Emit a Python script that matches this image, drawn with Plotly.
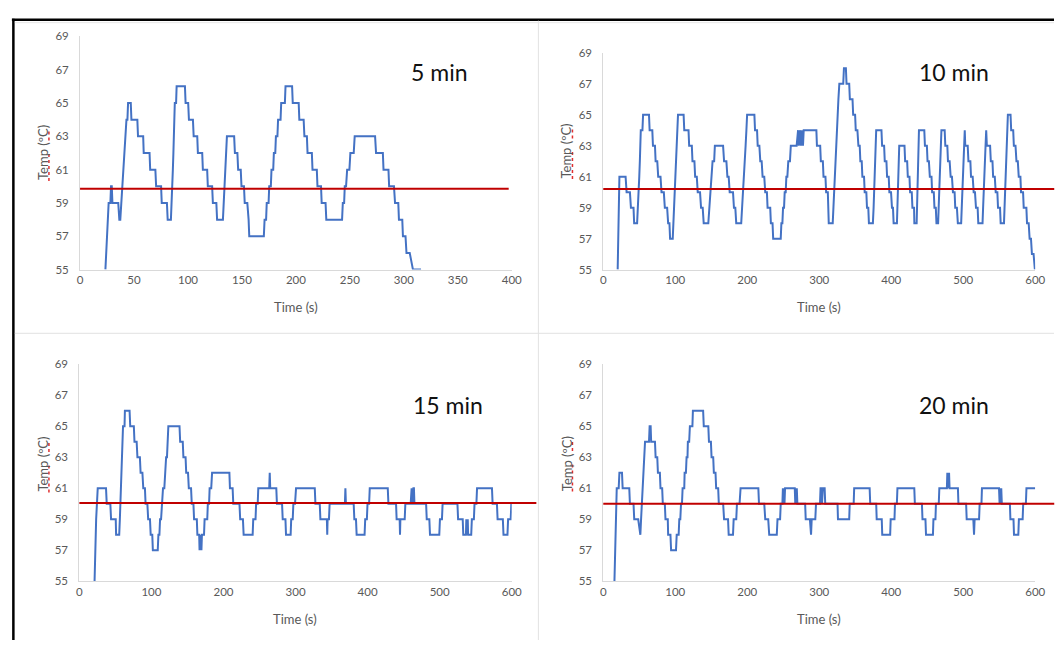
import plotly.graph_objects as go

# ---------------- data ----------------
# (time s, temperature degC) points of each run
temp_5min = [
    (23.5, 55), (26.5, 59), (28.1, 59), (28.7, 60), (29.4, 60), (30.0, 59), (35.4, 59), (36.4, 58),
    (37.3, 58), (38.2, 59), (39.2, 60), (40.2, 61), (41.1, 62), (42.0, 63), (43.0, 64), (43.9, 64),
    (44.5, 65), (47.0, 65), (47.6, 64), (53.1, 64), (53.7, 63), (58.5, 63), (59.0, 62), (64.4, 62),
    (65.0, 61), (69.8, 61), (70.5, 60), (75.1, 60), (75.7, 59), (80.5, 59), (81.2, 58), (84.2, 58),
    (85.0, 59), (85.5, 60), (86.0, 61), (86.5, 62), (87.0, 63), (87.4, 64), (87.8, 65), (89.0, 65),
    (89.5, 66), (97.2, 66), (97.8, 65), (100.2, 65), (100.9, 64), (104.6, 64), (105.3, 63), (108.6, 63),
    (109.2, 62), (113.2, 62), (113.8, 61), (117.8, 61), (118.4, 60), (122.4, 60), (123.1, 59), (126.3, 59),
    (127.0, 58), (132.4, 58), (133.2, 59), (133.9, 60), (134.6, 61), (135.3, 62), (136.1, 63), (142.8, 63),
    (143.5, 62), (145.8, 62), (146.5, 61), (148.9, 61), (149.6, 60), (151.9, 60), (152.6, 59), (155.0, 59),
    (155.5, 58), (156.2, 58), (156.8, 57), (170.3, 57), (171.0, 58), (172.4, 58), (173.0, 59), (174.7, 59),
    (175.3, 60), (176.8, 60), (177.4, 61), (179.0, 61), (179.6, 62), (180.9, 62), (181.5, 63), (182.9, 63),
    (183.5, 64), (185.8, 64), (186.4, 65), (189.8, 65), (190.4, 66), (196.5, 66), (197.1, 65), (202.6, 65),
    (203.2, 64), (207.2, 64), (207.9, 63), (210.2, 63), (210.8, 62), (214.8, 62), (215.4, 61), (219.4, 61),
    (220.0, 60), (223.3, 60), (223.9, 59), (227.5, 59), (228.2, 58), (242.8, 58), (243.5, 59), (244.7, 59),
    (245.3, 60), (246.5, 60), (247.5, 61), (249.6, 61), (250.5, 62), (253.6, 62), (254.5, 63), (273.4, 63),
    (274.3, 62), (280.6, 62), (281.2, 61), (285.8, 61), (286.4, 60), (290.9, 60), (291.9, 59), (294.9, 59),
    (295.5, 58), (298.6, 58), (299.2, 57), (301.6, 57), (302.5, 56), (305.5, 56), (308.5, 55), (316.0, 55),
]

temp_10min = [
    (20.0, 55), (22.4, 61), (31.0, 61), (32.4, 60), (37.0, 60), (38.4, 59), (42.0, 59), (42.9, 58), (47.0, 58),
    (48.3, 59), (49.2, 60), (50.0, 61), (50.8, 62), (51.5, 63), (52.1, 64), (54.4, 64), (55.3, 65), (63.5, 65),
    (64.4, 64), (68.1, 64), (69.0, 63), (71.8, 63), (72.7, 62), (75.0, 62), (76.3, 61), (79.5, 61), (80.9, 60),
    (84.1, 60), (85.5, 59), (88.7, 59), (90.1, 58), (91.9, 58), (92.8, 57), (96.5, 57),
    (97.5, 58), (98.5, 59), (99.5, 60), (100.4, 61), (101.3, 62), (102.2, 63), (103.0, 64), (103.8, 65), (111.6, 65),
    (112.5, 64), (118.4, 64), (119.3, 63), (123.0, 63), (123.9, 62), (126.6, 62), (127.6, 61), (129.9, 61),
    (131.2, 60), (134.4, 60), (135.8, 59), (138.1, 59), (139.5, 58), (145.9, 58),
    (147.3, 59), (148.5, 60), (150.6, 61), (151.8, 62), (154.0, 62), (155.0, 63), (166.4, 63),
    (167.8, 62), (171.0, 62), (172.4, 61), (174.2, 61), (175.6, 60), (180.2, 60), (181.5, 59), (183.4, 59),
    (184.7, 58), (191.6, 58), (193.0, 59), (194.3, 60), (195.5, 61), (196.6, 62), (197.7, 63), (198.8, 64),
    (199.8, 65), (209.9, 65), (210.8, 64), (213.6, 64), (214.5, 63), (216.8, 63), (218.1, 62), (220.0, 62),
    (221.3, 61), (223.6, 61), (225.0, 60), (227.3, 60), (228.2, 59), (231.9, 59), (232.8, 58), (235.1, 58),
    (236.0, 57), (246.5, 57), (247.4, 58), (248.8, 58), (249.7, 59), (251.1, 59), (252.0, 60), (253.4, 60),
    (254.3, 61), (255.7, 61), (257.0, 62), (259.3, 62), (260.5, 63), (268.6, 63),
    (269.6, 64), (270.6, 64), (271.6, 63), (272.6, 64), (273.6, 64), (274.6, 63), (275.6, 64), (276.4, 64),
    (277.4, 63), (278.4, 64), (296.0, 64),
    (296.8, 63), (301.3, 63), (302.2, 62), (305.0, 62), (305.9, 61), (308.6, 61), (309.6, 60), (311.9, 60),
    (312.3, 59), (312.8, 59), (313.2, 58), (318.7, 58),
    (319.6, 59), (320.6, 60), (321.5, 61), (322.5, 62), (323.5, 63), (324.5, 64), (325.5, 65), (326.6, 66),
    (327.9, 67), (333.3, 67), (334.3, 68), (337.0, 68), (337.9, 67), (341.6, 67), (342.5, 66), (346.2, 66),
    (347.1, 65), (349.8, 65), (350.7, 64), (353.0, 64), (354.4, 63), (356.2, 63), (357.1, 62), (359.0, 62),
    (359.9, 61), (362.2, 61), (363.1, 60), (365.4, 60), (366.3, 59), (368.1, 59), (369.0, 58), (374.5, 58),
    (375.5, 59), (376.3, 60), (377.0, 61), (377.7, 62), (378.4, 63), (379.1, 64), (386.4, 64),
    (387.3, 63), (390.1, 63), (391.0, 62), (393.3, 62), (394.2, 61), (396.5, 61), (397.4, 60), (399.7, 60),
    (401.0, 59), (402.4, 59), (403.3, 58), (407.9, 58),
    (408.7, 59), (409.3, 60), (409.9, 61), (410.5, 62), (411.1, 63), (418.4, 63),
    (419.3, 62), (422.1, 62), (423.0, 61), (425.3, 61), (426.2, 60), (428.5, 60), (429.4, 59), (431.7, 59),
    (432.1, 58), (435.3, 58),
    (436.0, 59), (436.6, 60), (437.2, 61), (437.6, 62), (438.0, 63), (438.5, 64), (445.9, 64),
    (446.8, 63), (449.5, 63), (450.4, 62), (452.3, 62), (453.6, 61), (455.9, 61), (456.8, 60), (459.1, 60),
    (460.0, 59), (461.9, 59), (462.8, 58), (465.1, 58),
    (466.0, 59), (466.8, 60), (467.6, 61), (468.4, 62), (469.0, 63), (469.7, 64), (474.2, 64),
    (475.1, 63), (477.9, 63), (478.8, 62), (481.1, 62), (482.5, 61), (484.3, 61), (485.7, 60), (488.0, 60),
    (488.9, 59), (491.2, 59), (492.5, 58), (497.1, 58),
    (497.9, 59), (498.6, 60), (499.3, 61), (500.0, 62), (500.8, 63), (501.5, 63), (502.1, 64), (502.8, 63),
    (506.2, 63), (507.2, 62), (509.9, 62), (510.8, 61), (513.1, 61), (514.5, 60), (516.3, 60), (517.7, 59),
    (520.0, 59), (520.9, 58), (526.8, 58),
    (527.6, 59), (528.2, 60), (528.8, 61), (529.4, 62), (530.0, 63), (531.0, 63), (531.9, 64), (532.8, 63),
    (537.3, 63), (538.3, 62), (540.6, 62), (541.5, 61), (543.8, 61), (545.1, 60), (547.4, 60), (548.3, 59),
    (551.1, 59), (552.0, 58), (556.6, 58),
    (557.5, 59), (558.3, 60), (559.0, 61), (559.7, 62), (560.4, 63), (561.2, 64), (562.0, 65), (565.7, 65),
    (566.6, 64), (569.4, 64), (570.3, 63), (572.6, 63), (573.9, 62), (575.8, 62), (577.1, 61), (579.4, 61),
    (580.3, 60), (583.1, 60), (584.0, 59), (587.7, 59), (588.6, 58), (590.9, 58), (592.2, 57), (594.1, 57),
    (595.4, 56), (597.7, 56), (599.5, 55),
]

temp_15min = [
    (21.1, 55), (23.3, 59), (25.5, 61), (37.0, 61), (38.0, 60), (43.0, 60), (44.0, 59), (50.5, 59),
    (51.0, 58), (55.3, 58),
    (56.2, 59), (56.9, 60), (57.6, 61), (58.3, 62), (58.9, 63), (59.6, 64), (60.6, 65), (62.7, 65),
    (63.2, 66), (69.7, 66), (70.6, 65), (75.6, 65), (76.5, 64), (79.5, 64), (80.6, 63), (84.0, 63),
    (85.0, 62), (87.5, 62), (88.7, 61), (91.0, 61), (91.9, 60), (94.4, 60), (95.5, 59), (98.0, 59),
    (99.0, 58), (101.2, 58), (102.0, 57), (108.8, 57),
    (109.7, 58), (111.1, 58), (112.0, 59), (113.4, 59), (114.3, 60), (115.2, 60), (116.1, 61), (117.9, 61),
    (118.8, 62), (119.8, 62), (120.4, 63), (121.6, 63), (122.2, 64), (123.0, 64), (123.5, 65), (139.0, 65),
    (139.9, 64), (143.5, 64), (144.4, 63), (147.4, 63), (148.3, 62), (150.8, 62), (151.9, 61), (155.0, 61),
    (156.0, 60), (158.3, 60), (159.2, 59), (163.0, 59), (163.8, 58), (166.3, 58), (166.8, 57), (167.4, 58),
    (168.0, 57), (168.7, 58), (169.4, 57), (170.1, 58), (173.0, 58),
    (173.8, 59), (177.5, 59), (178.3, 60), (180.0, 60), (180.8, 61), (183.0, 61), (184.2, 62), (208.2, 62),
    (209.0, 61), (212.7, 61), (213.6, 60), (222.2, 60), (223.2, 59), (227.0, 59), (228.0, 58), (240.5, 58),
    (241.3, 59), (244.5, 59), (245.3, 60), (247.5, 60), (248.3, 61), (263.5, 61), (264.2, 62), (264.9, 61),
    (273.3, 61), (274.2, 60), (281.3, 60), (282.2, 59), (286.0, 59), (286.8, 58), (293.2, 58), (294.0, 59),
    (296.1, 59), (297.0, 60), (299.3, 60), (300.7, 61), (326.7, 61),
    (327.6, 60), (333.6, 60), (334.5, 59), (343.5, 59), (344.0, 58), (344.5, 59), (346.4, 59), (347.3, 60),
    (368.5, 60), (369.2, 61), (369.9, 60), (380.7, 60), (381.6, 59), (383.9, 59), (384.8, 58), (395.8, 58),
    (396.7, 59), (399.0, 59), (399.9, 60), (402.1, 60), (403.0, 61), (428.0, 61),
    (428.9, 60), (439.5, 60), (440.3, 59), (444.5, 59), (445.0, 58), (445.5, 59), (451.5, 59), (452.4, 60),
    (459.8, 60), (460.4, 61), (461.1, 61), (461.8, 60), (463.0, 60), (463.6, 61), (464.3, 61), (465.0, 60),
    (481.2, 60), (482.1, 59), (485.7, 59), (486.6, 58), (499.5, 58), (500.4, 59), (503.2, 59), (504.1, 60),
    (524.7, 60), (525.6, 59), (532.0, 59), (532.8, 58), (536.5, 58), (537.0, 59), (537.5, 58), (538.5, 58),
    (539.0, 59), (539.5, 58), (543.8, 58), (544.7, 59), (547.5, 59), (548.4, 60), (551.0, 60), (551.9, 61),
    (572.6, 61), (573.5, 60), (579.5, 60), (580.4, 59), (587.7, 59), (588.6, 58), (594.1, 58), (595.0, 59),
    (598.6, 59), (599.5, 60),
]

temp_20min = [
    (15.5, 55), (17.0, 58), (18.7, 61), (21.4, 61), (22.4, 62), (26.0, 62), (26.9, 61), (36.1, 61),
    (37.0, 60), (42.0, 60), (43.0, 59), (48.5, 59), (50.5, 58), (51.5, 58),
    (52.5, 59), (53.5, 60), (54.6, 61), (55.6, 62), (56.7, 63), (58.0, 64), (63.5, 64), (64.4, 65),
    (65.8, 65), (66.5, 64), (71.8, 64), (72.7, 63), (75.0, 63), (75.9, 62), (78.6, 62), (79.5, 61),
    (81.8, 61), (82.7, 60), (85.5, 60), (86.4, 59), (89.6, 59), (90.1, 58), (93.3, 58), (94.2, 57),
    (101.0, 57), (102.0, 58), (104.7, 58), (105.6, 59), (107.0, 59), (108.0, 60), (109.3, 60), (110.2, 61),
    (112.5, 61), (113.0, 62), (114.8, 62), (115.7, 63), (117.0, 63), (117.5, 64), (119.3, 64), (120.3, 65),
    (123.8, 65), (124.5, 66), (138.7, 66), (139.6, 65), (145.9, 65), (146.8, 64), (149.5, 64), (150.4, 63),
    (152.7, 63), (153.6, 62), (155.9, 62), (156.8, 61), (159.6, 61), (160.5, 60), (166.5, 60), (167.8, 59),
    (173.3, 59), (174.2, 58), (180.2, 58), (181.1, 59), (184.7, 59), (185.7, 60), (189.3, 60), (190.7, 61),
    (215.4, 61), (216.3, 60), (223.6, 60), (225.0, 59), (229.1, 59), (230.5, 58), (241.0, 58), (242.0, 59),
    (245.6, 59), (246.5, 60), (248.8, 60),
    (249.5, 61), (250.3, 60), (251.0, 61), (251.7, 60), (252.5, 61), (266.0, 61), (266.7, 60), (267.4, 61),
    (268.1, 60), (268.8, 61), (269.6, 60), (280.4, 60), (281.2, 59), (287.0, 59), (288.6, 58), (289.5, 59),
    (294.5, 59), (295.5, 60), (301.0, 60), (301.8, 61), (303.0, 61), (303.8, 60), (305.0, 61), (307.5, 61),
    (308.3, 60), (325.4, 60), (326.0, 59), (341.6, 59), (342.3, 60), (347.8, 60), (348.5, 61), (370.0, 61),
    (370.8, 60), (379.1, 60), (379.8, 59), (386.8, 59), (387.5, 58), (398.5, 58), (399.2, 59), (404.5, 59),
    (405.2, 60), (407.8, 60), (408.6, 61), (432.0, 61), (432.8, 60), (442.6, 60), (443.4, 59), (447.5, 59),
    (448.3, 58), (457.9, 58), (458.6, 59), (461.4, 59), (462.1, 60), (466.0, 60), (466.8, 61), (477.3, 61),
    (477.9, 62), (478.5, 61), (479.1, 62), (479.7, 61), (480.3, 62), (481.0, 61), (492.6, 61), (493.3, 60),
    (504.0, 60), (504.8, 59), (514.0, 59), (515.0, 58), (515.8, 59), (522.0, 59), (522.8, 60), (525.3, 60),
    (526.0, 61), (549.7, 61), (550.5, 60), (551.3, 61), (552.0, 60), (552.8, 61), (553.6, 60), (564.8, 60),
    (565.5, 59), (569.8, 59), (570.5, 58), (576.5, 58), (577.3, 59), (582.5, 59), (583.3, 60), (587.0, 60),
    (587.8, 61), (600.0, 61),
]

setpoints = [59.85, 60.2, 60.05, 60.0]
panel_labels = ["5 min", "10 min", "15 min", "20 min"]
x_max = [400, 600, 600, 600]
x_step = [50, 100, 100, 100]
y_ticks = [55, 57, 59, 61, 63, 65, 67, 69]
y_title = "Temp (ºC)"
x_title = "Time (s)"

# ---------------- layout geometry (pixels) ----------------
W, H = 1064, 646
FONT = "Lato"
GRAY = "#595959"
AXIS = "#d9d9d9"
BLUE = "#4472C4"
RED = "#C00000"


def fx(px):
    return px / W


def fy(py):
    return 1 - py / H


boxes = [(78, 515, 30, 268), (607.7, 1045, 46.7, 268),
         (77.3, 515, 364.7, 586), (607.7, 1045, 364.7, 586)]
red_extent = [0.993, 1.044, 1.057, 1.044]
label_pos = [(442, 66), (963, 66), (450, 406), (963, 406)]
ytitle_pos = [(40.5, 149), (570.5, 147), (40.5, 467), (570.5, 466)]
xtitle_pos = [(297, 306.5), (826.5, 306.5), (296, 625), (826.5, 625)]

series = [temp_5min, temp_10min, temp_15min, temp_20min]

fig = go.Figure()
annotations = []
shapes = []
for i, pts in enumerate(series):
    n = "" if i == 0 else str(i + 1)
    x0, x1, y0, y1 = boxes[i]
    fig.add_trace(go.Scatter(
        x=[p[0] for p in pts], y=[p[1] for p in pts], mode="lines",
        line=dict(color=BLUE, width=2), xaxis="x" + n, yaxis="y" + n,
        showlegend=False, hoverinfo="skip"))
    fig.update_layout(**{
        "xaxis" + n: dict(domain=[fx(x0), fx(x1)], anchor="y" + n, range=[0, x_max[i]],
                          tick0=0, dtick=x_step[i], showline=True, linecolor=AXIS, linewidth=1,
                          showgrid=False, zeroline=False, ticks="",
                          tickfont=dict(family=FONT, size=11.5, color=GRAY)),
        "yaxis" + n: dict(domain=[fy(y1), fy(y0)], anchor="x" + n, range=[55, 69],
                          tickvals=y_ticks, showline=True, linecolor=AXIS, linewidth=1,
                          showgrid=False, zeroline=False, ticks="", ticklabelstandoff=8,
                          tickfont=dict(family=FONT, size=11.5, color=GRAY)),
    })
    shapes.append(dict(type="line", xref="x" + n + " domain", x0=0, x1=red_extent[i],
                       yref="y" + n, y0=setpoints[i], y1=setpoints[i],
                       line=dict(color=RED, width=2)))
    lx, ly = label_pos[i]
    annotations.append(dict(text=panel_labels[i], x=fx(lx), y=fy(ly), xref="paper", yref="paper",
                            showarrow=False, xanchor="center", yanchor="middle",
                            font=dict(family=FONT, size=23, color="#111111")))
    tx, ty = ytitle_pos[i]
    annotations.append(dict(text=y_title, x=fx(tx), y=fy(ty), xref="paper", yref="paper",
                            showarrow=False, textangle=-90, xanchor="center", yanchor="middle",
                            font=dict(family=FONT, size=13, color=GRAY)))
    # spell-check squiggles under "Temp" and "ºC"
    shapes.append(dict(type="line", xref="paper", yref="paper", x0=fx(tx + 6), x1=fx(tx + 6),
                       y0=fy(ty + 1), y1=fy(ty + 29), line=dict(color="#e03030", width=1.5, dash="dot")))
    shapes.append(dict(type="line", xref="paper", yref="paper", x0=fx(tx + 6), x1=fx(tx + 6),
                       y0=fy(ty - 22), y1=fy(ty - 12), line=dict(color="#e03030", width=1.5, dash="dot")))
    qx, qy = xtitle_pos[i]
    annotations.append(dict(text=x_title, x=fx(qx), y=fy(qy), xref="paper", yref="paper",
                            showarrow=False, xanchor="center", yanchor="middle",
                            font=dict(family=FONT, size=13, color=GRAY)))

# frame lines
shapes += [
    dict(type="line", xref="paper", yref="paper", x0=fx(9), x1=1, y0=fy(13), y1=fy(13),
         line=dict(color="black", width=2.5)),
    dict(type="line", xref="paper", yref="paper", x0=fx(10.5), x1=fx(10.5), y0=0, y1=fy(12),
         line=dict(color="black", width=2.5)),
    dict(type="line", xref="paper", yref="paper", x0=fx(12), x1=1, y0=fy(333), y1=fy(333),
         line=dict(color="#e2e2e2", width=1)),
    dict(type="line", xref="paper", yref="paper", x0=fx(542), x1=fx(542), y0=0, y1=fy(14),
         line=dict(color="#e2e2e2", width=1)),
    dict(type="line", xref="paper", yref="paper", x0=fx(12), x1=1, y0=fy(16), y1=fy(16),
         line=dict(color="#e6e6e6", width=1)),
]

fig.update_layout(width=W, height=H, margin=dict(l=0, r=0, t=0, b=0),
                  paper_bgcolor="white", plot_bgcolor="white",
                  annotations=annotations, shapes=shapes,
                  font=dict(family=FONT, color=GRAY))

fig.write_html("out.html",
               post_script="document.body.style.margin='0';document.body.style.overflow='hidden';")
